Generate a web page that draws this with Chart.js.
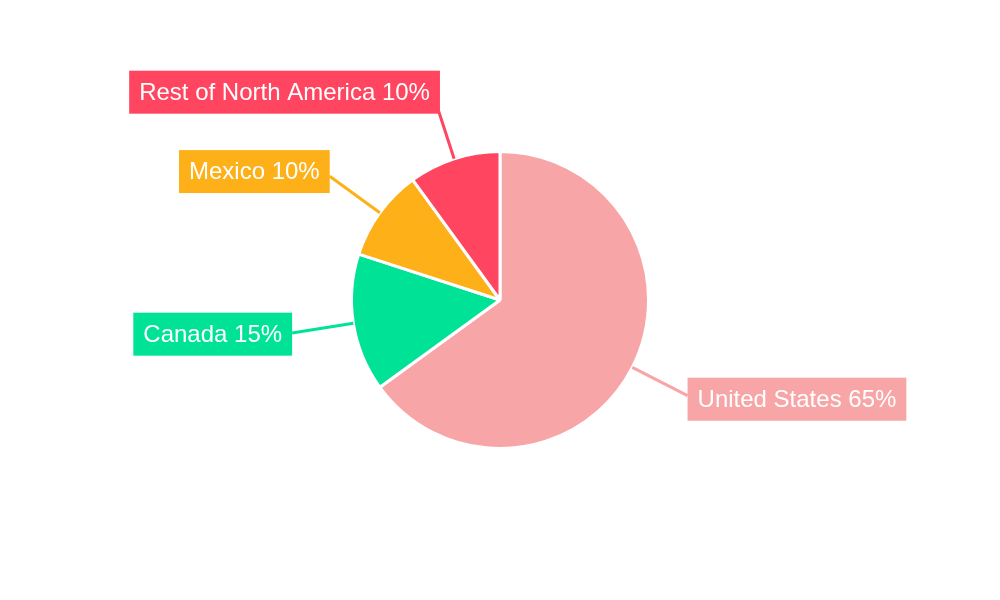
<!DOCTYPE html>
<html>
<head>
<meta charset="utf-8">
<script src="https://cdn.jsdelivr.net/npm/chart.js@4"></script>
<style>
  html, body { margin: 0; padding: 0; background: #ffffff; }
  #wrap { width: 1000px; height: 600px; }
</style>
</head>
<body>
<div id="wrap"><canvas id="chart" width="1000" height="600"></canvas></div>
<script>
// data
var regions = ["United States", "Canada", "Mexico", "Rest of North America"];
var shares = [65, 15, 10, 10];
var sliceColors = ["#F8A5A7", "#00E396", "#FEB019", "#FF4560"];

// labels with leader lines, drawn next to each slice
var calloutPlugin = {
    id: "callouts",
    afterDatasetsDraw: function(chart) {
        var ctx = chart.ctx;
        var meta = chart.getDatasetMeta(0);
        ctx.save();
        ctx.font = "24px 'Liberation Sans', Arial, sans-serif";
        ctx.textBaseline = "middle";
        var boxes = [];
        meta.data.forEach(function(arc, i) {
            var p = arc.getProps(["x", "y", "startAngle", "endAngle", "outerRadius"], true);
            var mid = (p.startAngle + p.endAngle) / 2;
            var cos = Math.cos(mid), sin = Math.sin(mid);
            var r0 = p.outerRadius, r1 = p.outerRadius + 62;
            var ex = p.x + cos * r0, ey = p.y + sin * r0;
            var ax = p.x + cos * r1, ay = p.y + sin * r1;

            ctx.strokeStyle = sliceColors[i];
            ctx.lineWidth = 3;
            ctx.beginPath();
            ctx.moveTo(ex, ey);
            ctx.lineTo(ax, ay);
            ctx.stroke();

            var txt = regions[i] + " " + shares[i] + "%";
            var w = ctx.measureText(txt).width + 20;
            var h = 43;
            var cy = ay + 8 * sin;   // nudge up on top half, down on bottom half
            var bx = cos < 0 ? ax - w : ax;
            if (cos < 0 && sin < -0.9) bx += 5;   // the top label sits a bit right
            boxes.push({x: bx, y: cy - h / 2, w: w, h: h, txt: txt, c: sliceColors[i]});
        });
        boxes.forEach(function(b) {
            ctx.fillStyle = b.c;
            ctx.fillRect(b.x, b.y, b.w, b.h);
            ctx.fillStyle = "#ffffff";
            ctx.textAlign = "left";
            ctx.fillText(b.txt, b.x + 10, b.y + b.h / 2 + 1);
        });
        ctx.restore();
    }
};

var ctx = document.getElementById("chart").getContext("2d");
var chart = new Chart(ctx, {
    type: "pie",
    data: {
        labels: regions,
        datasets: [{
            data: shares,
            backgroundColor: sliceColors,
            borderColor: "#ffffff",
            borderWidth: 3
        }]
    },
    options: {
        responsive: false,
        animation: false,
        layout: { padding: { top: 150, bottom: 150 } },
        plugins: {
            legend: { display: false },
            tooltip: { enabled: false }
        }
    },
    plugins: [calloutPlugin]
});
</script>
</body>
</html>
